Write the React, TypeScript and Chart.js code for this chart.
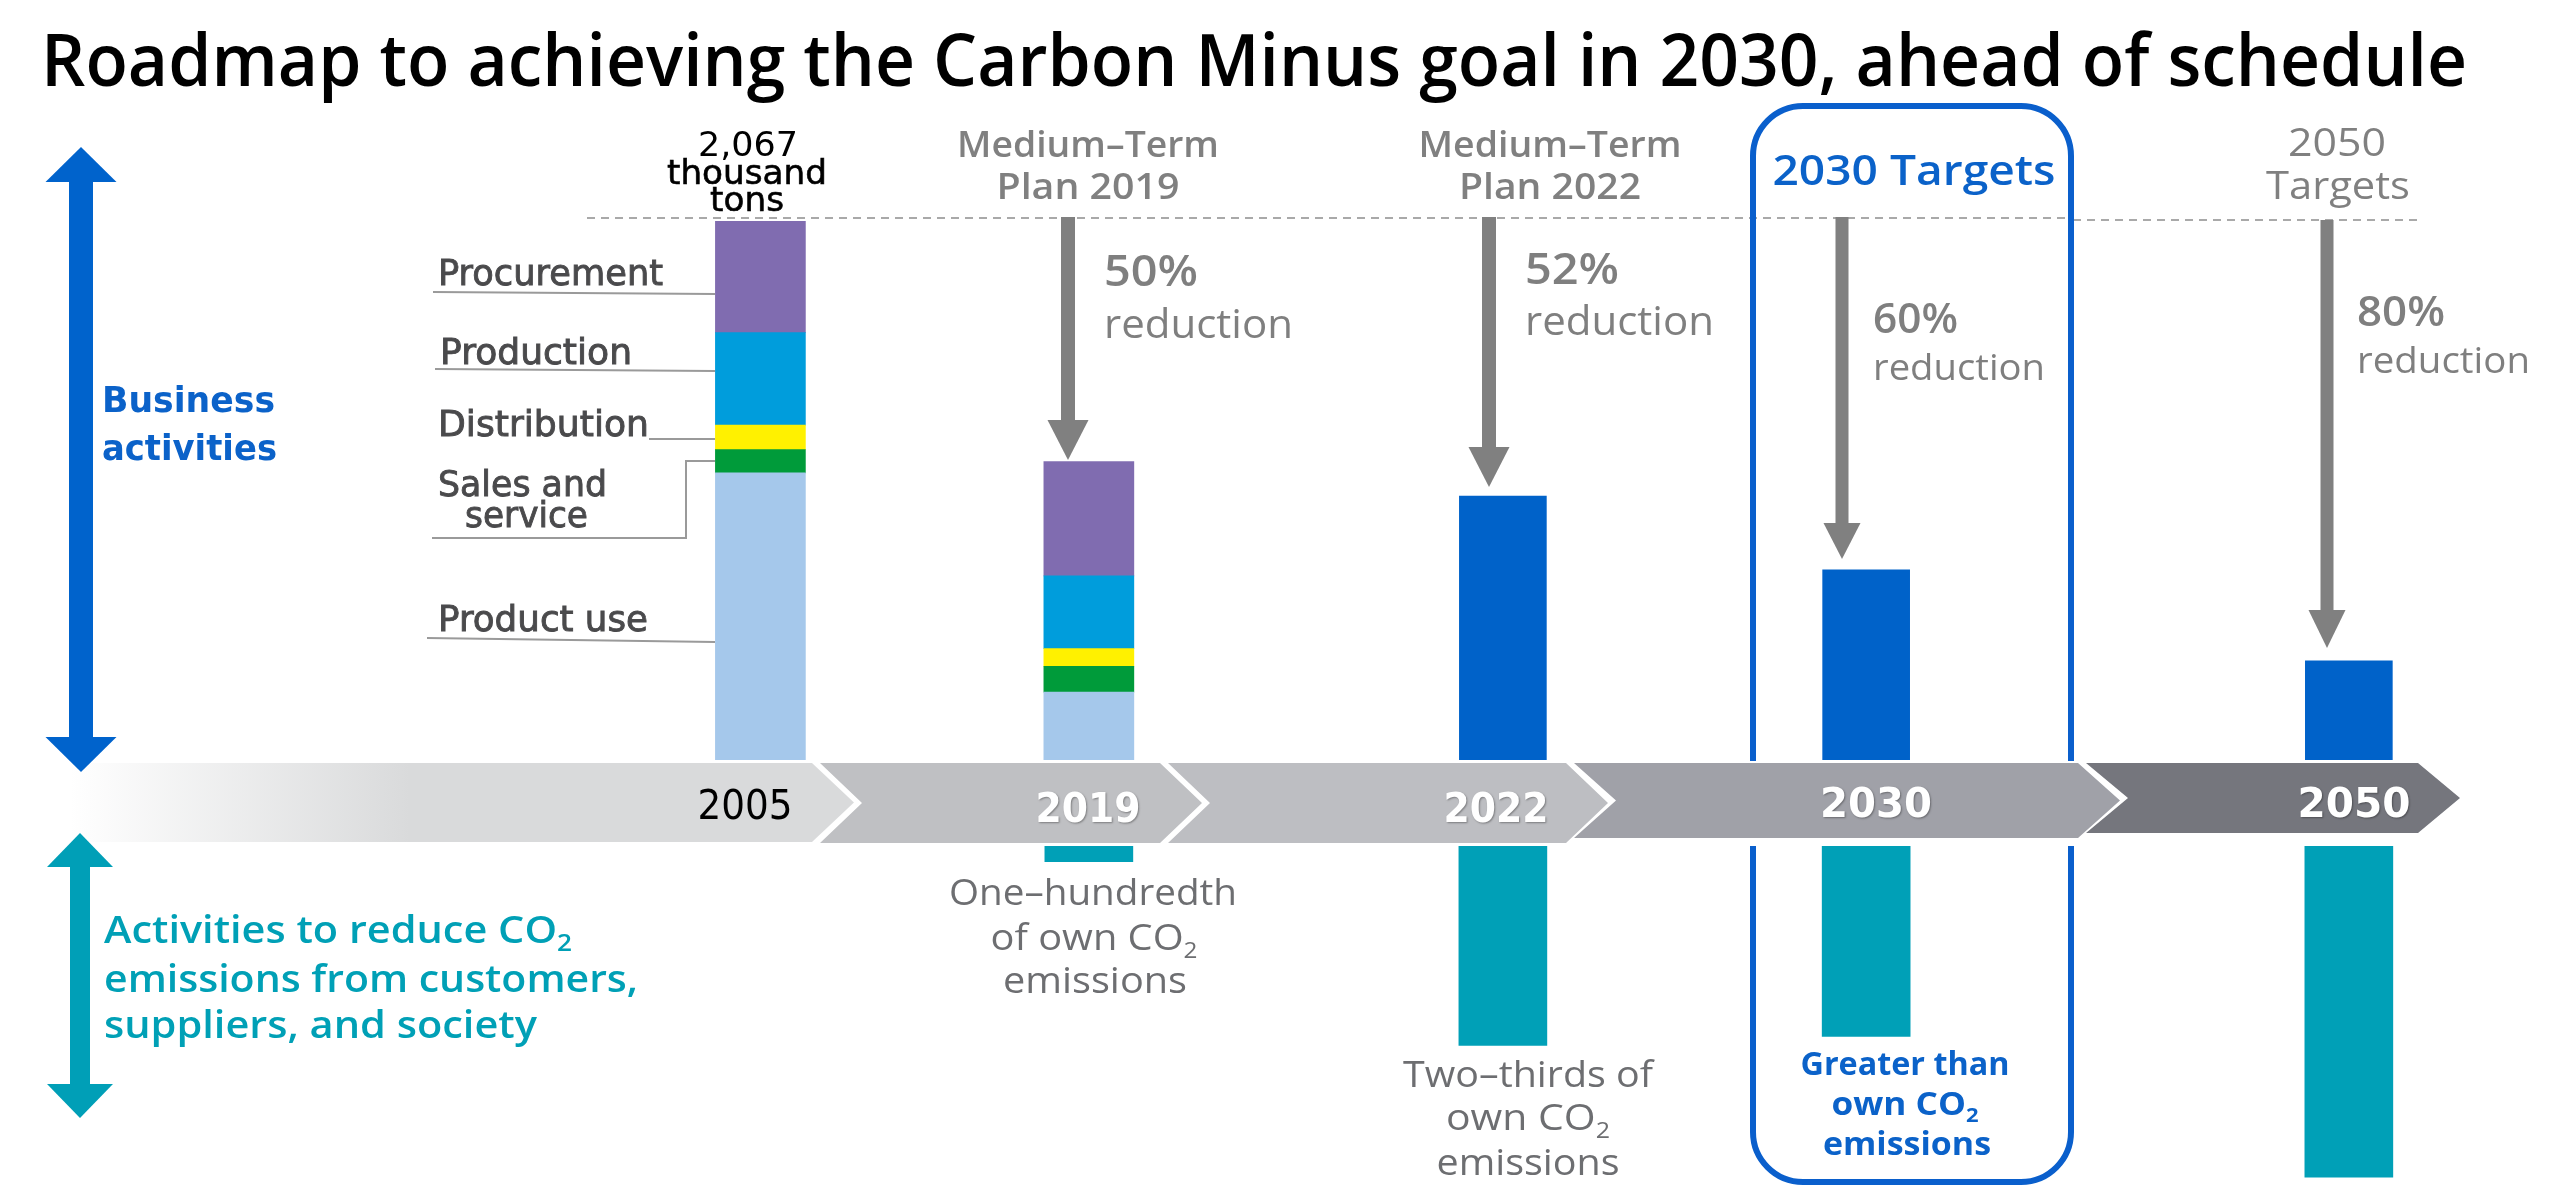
import React, { useEffect, useRef } from "react";
import { Chart, registerables } from "chart.js";

Chart.register(...registerables);

// ---------------- data ----------------
const years = ["2005", "2019", "2022", "2030", "2050"];
// thousand t-CO2, business activities (own emissions by stage)
const productUse = [1101, 260, null, null, null];
const salesAndService = [89, 99, null, null, null];
const distribution = [94, 68, null, null, null];
const production = [355, 279, null, null, null];
const procurement = [428, 438, null, null, null];
const ownEmissions = [null, null, 1012, 729, 380];
// reductions contributed to customers, suppliers and society
const societyReduction = [null, 60, 765, 730, 1270];
const reductionRates = ["", "50%", "52%", "60%", "80%"];
const stageLabels = ["Procurement", "Production", "Distribution", "Sales and service", "Product use"];
const totalLabel = ["2,067", "thousand", "tons"];

// ---------------- layout ----------------
const W = 2562;
const H = 1190;
// position of each year along the timeline (percent of width)
const slotPos = [29.68, 42.5, 58.66, 72.84, 91.68];

const SANS_M = '"Open Sans", "Noto Sans", "Liberation Sans", sans-serif';
const SANS_V = '"DejaVu Sans", Verdana, sans-serif';
const GRAY = "#808080";
const BLUE = "#0b62c9";
const TEAL = "#00a0b6";

const pts = (arr: (number | null)[]) =>
  arr.flatMap((v, i) => (v == null ? [] : [{ x: slotPos[i], y: v }]));

type Run = { t: string; sub?: boolean };
interface TOpt {
  size: number;
  family: string;
  weight?: string | number;
  color: string;
  align?: "left" | "center";
  w?: number;
  stroke?: number;
  shadow?: boolean;
}

function drawText(ctx: CanvasRenderingContext2D, runs: Run[] | string, x: number, y: number, o: TOpt) {
  const rs: Run[] = typeof runs === "string" ? [{ t: runs }] : runs;
  const wt = o.weight ?? 400;
  const main = `${wt} ${o.size}px ${o.family}`;
  const sub = `${wt} ${Math.round(o.size * 0.62)}px ${o.family}`;
  let w = 0;
  for (const r of rs) {
    ctx.font = r.sub ? sub : main;
    w += ctx.measureText(r.t).width;
  }
  const sx = o.w ? o.w / w : 1;
  const x0 = o.align === "center" ? x - (w * sx) / 2 : x;
  ctx.save();
  ctx.translate(x0, y);
  ctx.scale(sx, 1);
  ctx.textAlign = "left";
  ctx.textBaseline = "alphabetic";
  ctx.fillStyle = o.color;
  if (o.shadow) {
    ctx.shadowColor = "rgba(0,0,0,0.35)";
    ctx.shadowBlur = 2;
    ctx.shadowOffsetX = 1;
    ctx.shadowOffsetY = 1;
  }
  let cx = 0;
  for (const r of rs) {
    ctx.font = r.sub ? sub : main;
    const dy = r.sub ? o.size * 0.22 : 0;
    ctx.fillText(r.t, cx, dy);
    if (o.stroke) {
      ctx.strokeStyle = o.color;
      ctx.lineWidth = o.stroke;
      ctx.strokeText(r.t, cx, dy);
    }
    cx += ctx.measureText(r.t).width;
  }
  ctx.restore();
}

function downArrow(ctx: CanvasRenderingContext2D, x: number, y0: number, tip: number, sw: number, hw: number, hl: number, color: string) {
  ctx.fillStyle = color;
  ctx.fillRect(x - sw / 2, y0, sw, tip - hl - y0 + 1);
  ctx.beginPath();
  ctx.moveTo(x - hw / 2, tip - hl);
  ctx.lineTo(x + hw / 2, tip - hl);
  ctx.lineTo(x, tip);
  ctx.closePath();
  ctx.fill();
}

function doubleArrow(ctx: CanvasRenderingContext2D, x: number, top: number, bot: number, sw: number, hw: number, hl: number, color: string) {
  ctx.fillStyle = color;
  ctx.fillRect(x - sw / 2, top + hl - 1, sw, bot - top - 2 * hl + 2);
  ctx.beginPath();
  ctx.moveTo(x, top);
  ctx.lineTo(x + hw / 2, top + hl);
  ctx.lineTo(x - hw / 2, top + hl);
  ctx.closePath();
  ctx.fill();
  ctx.beginPath();
  ctx.moveTo(x, bot);
  ctx.lineTo(x + hw / 2, bot - hl);
  ctx.lineTo(x - hw / 2, bot - hl);
  ctx.closePath();
  ctx.fill();
}

function line(ctx: CanvasRenderingContext2D, p: number[][]) {
  ctx.beginPath();
  ctx.moveTo(p[0][0], p[0][1]);
  for (let i = 1; i < p.length; i++) ctx.lineTo(p[i][0], p[i][1]);
  ctx.stroke();
}

const decor = {
  id: "decor",
  beforeDatasetsDraw(chart: any) {
    const ctx: CanvasRenderingContext2D = chart.ctx;
    ctx.save();
    ctx.strokeStyle = "#a9a9a9";
    ctx.lineWidth = 2;
    ctx.setLineDash([8, 6]);
    line(ctx, [[587, 218], [2073, 218]]);
    line(ctx, [[2073, 220], [2420, 220]]);
    ctx.restore();
  },
  afterDatasetsDraw(chart: any) {
    const ctx: CanvasRenderingContext2D = chart.ctx;
    ctx.save();

    // Title
    drawText(ctx, "Roadmap to achieving the Carbon Minus goal in 2030, ahead of schedule", 41, 86, {
      size: 73, family: SANS_M, weight: 600, color: "#000", w: 2426,
    });

    // 2030 targets box (broken around the timeline)
    ctx.strokeStyle = "#0a5fcc";
    ctx.lineWidth = 6;
    const L = 1753, R = 2071, T = 106, B = 1182, r = 50, g1 = 761, g2 = 846;
    ctx.beginPath();
    ctx.moveTo(L, g1);
    ctx.lineTo(L, T + r);
    ctx.arcTo(L, T, L + r, T, r);
    ctx.lineTo(R - r, T);
    ctx.arcTo(R, T, R, T + r, r);
    ctx.lineTo(R, g1);
    ctx.stroke();
    ctx.beginPath();
    ctx.moveTo(L, g2);
    ctx.lineTo(L, B - r);
    ctx.arcTo(L, B, L + r, B, r);
    ctx.lineTo(R - r, B);
    ctx.arcTo(R, B, R, B - r, r);
    ctx.lineTo(R, g2);
    ctx.stroke();

    // Timeline
    const top = 763, d = 42;
    const grad = ctx.createLinearGradient(70, 0, 410, 0);
    grad.addColorStop(0, "#ffffff");
    grad.addColorStop(1, "#d9dadb");
    const segs = [
      { L: 62, R: 812, bot: 842, fill: grad as any },
      { L: 820, R: 1160, bot: 843, fill: "#bfc0c3" },
      { L: 1168, R: 1566, bot: 843, fill: "#bdbec2" },
      { L: 1574, R: 2078, bot: 838, fill: "#a0a1a8" },
      { L: 2086, R: 2418, bot: 833, fill: "#75767d" },
    ];
    segs.forEach((s, i) => {
      const mid = (top + s.bot) / 2;
      ctx.fillStyle = s.fill;
      ctx.beginPath();
      ctx.moveTo(s.L, top);
      ctx.lineTo(s.R, top);
      ctx.lineTo(s.R + d, mid);
      ctx.lineTo(s.R, s.bot);
      ctx.lineTo(s.L, s.bot);
      if (i > 0) ctx.lineTo(s.L + d, mid);
      ctx.closePath();
      ctx.fill();
    });
    const yearText = [
      { x: 745, y: 819, w: 95, c: "#000", sh: false, wt: 400 },
      { x: 1088, y: 822, w: 105, c: "#fff", sh: true, wt: 700 },
      { x: 1496, y: 822, w: 105, c: "#fff", sh: true, wt: 700 },
      { x: 1876, y: 817, w: 112, c: "#fff", sh: true, wt: 700 },
      { x: 2354, y: 817, w: 113, c: "#fff", sh: true, wt: 700 },
    ];
    years.forEach((yr, i) => {
      const t = yearText[i];
      drawText(ctx, yr, t.x, t.y, { size: 40, family: SANS_V, weight: t.wt, color: t.c, align: "center", w: t.w, shadow: t.sh });
    });

    // Left double arrows
    doubleArrow(ctx, 81, 147, 772, 24, 71, 35, "#0063cc");
    doubleArrow(ctx, 80, 833, 1118, 20, 66, 34, "#009fb7");

    drawText(ctx, "Business", 102, 412, { size: 36, family: SANS_V, weight: 700, color: BLUE, w: 173 });
    drawText(ctx, "activities", 102, 460, { size: 36, family: SANS_V, weight: 700, color: BLUE, w: 175 });

    // Stage labels + leader lines
    const lab = { size: 35, family: SANS_V, color: "#4a4a4c", stroke: 0.9 };
    drawText(ctx, stageLabels[0], 438, 285, { ...lab, w: 225 });
    drawText(ctx, stageLabels[1], 440, 364, { ...lab, w: 192 });
    drawText(ctx, stageLabels[2], 438, 436, { ...lab, w: 211 });
    const ss = stageLabels[3].split(" and ");
    drawText(ctx, ss[0] + " and", 438, 496, { ...lab, w: 169 });
    drawText(ctx, ss[1], 465, 527, { ...lab, w: 123 });
    drawText(ctx, stageLabels[4], 438, 631, { ...lab, w: 210 });
    ctx.strokeStyle = "#9a9a9a";
    ctx.lineWidth = 2;
    line(ctx, [[433, 292], [715, 294]]);
    line(ctx, [[435, 369], [715, 371]]);
    line(ctx, [[649, 439], [715, 439]]);
    line(ctx, [[715, 461], [686, 461], [686, 538], [432, 538]]);
    line(ctx, [[427, 638], [715, 642]]);

    // Total label
    drawText(ctx, totalLabel[0], 748, 156, { size: 34, family: SANS_V, color: "#000", align: "center", w: 100 });
    drawText(ctx, totalLabel[1], 747, 184, { size: 34, family: SANS_V, color: "#000", align: "center", w: 160, stroke: 0.6 });
    drawText(ctx, totalLabel[2], 747, 211, { size: 34, family: SANS_V, color: "#000", align: "center", w: 74, stroke: 0.6 });

    // Plan headers
    const hd = { size: 36, family: SANS_M, weight: 600, color: GRAY, align: "center" as const };
    drawText(ctx, "Medium–Term", 1088, 157, { ...hd, w: 262 });
    drawText(ctx, "Plan 2019", 1088, 199, { ...hd, w: 183 });
    drawText(ctx, "Medium–Term", 1550, 157, { ...hd, w: 263 });
    drawText(ctx, "Plan 2022", 1550, 199, { ...hd, w: 182 });
    drawText(ctx, "2030 Targets", 1914, 185, { size: 42, family: SANS_M, weight: 600, color: BLUE, align: "center", w: 283 });
    drawText(ctx, "2050", 2337, 156, { size: 38, family: SANS_M, weight: 500, color: GRAY, align: "center", w: 98 });
    drawText(ctx, "Targets", 2338, 199, { size: 38, family: SANS_M, weight: 500, color: GRAY, align: "center", w: 144 });

    // Reduction arrows and labels
    const arrows = [
      null,
      { x: 1068, y0: 217, tip: 460, sw: 14, hw: 41, hl: 40 },
      { x: 1489, y0: 217, tip: 487, sw: 14, hw: 41, hl: 40 },
      { x: 1842, y0: 217, tip: 559, sw: 13, hw: 37, hl: 36 },
      { x: 2327, y0: 220, tip: 648, sw: 13, hw: 37, hl: 38 },
    ];
    const rl = [
      null,
      { x: 1104, y1: 286, y2: 338, s1: 44, s2: 40, w1: 94, w2: 189 },
      { x: 1525, y1: 284, y2: 335, s1: 44, s2: 40, w1: 94, w2: 189 },
      { x: 1873, y1: 333, y2: 380, s1: 41, s2: 37, w1: 85, w2: 172 },
      { x: 2357, y1: 326, y2: 373, s1: 41, s2: 37, w1: 88, w2: 173 },
    ];
    reductionRates.forEach((rate, i) => {
      const a = arrows[i];
      const t = rl[i];
      if (!a || !t || !rate) return;
      downArrow(ctx, a.x, a.y0, a.tip, a.sw, a.hw, a.hl, GRAY);
      drawText(ctx, rate, t.x, t.y1, { size: t.s1, family: SANS_M, weight: 600, color: "#7f7f7f", w: t.w1 });
      drawText(ctx, "reduction", t.x, t.y2, { size: t.s2, family: SANS_M, weight: 400, color: "#7f7f7f", w: t.w2 });
    });

    // Lower texts
    const tl = { size: 38, family: SANS_M, weight: 600, color: TEAL };
    drawText(ctx, [{ t: "Activities to reduce CO" }, { t: "2", sub: true }], 104, 943, { ...tl, w: 468 });
    drawText(ctx, "emissions from customers,", 104, 992, { ...tl, w: 534 });
    drawText(ctx, "suppliers, and society", 104, 1038, { ...tl, w: 433 });

    const gl = { size: 36, family: SANS_M, weight: 400, color: "#6d6e71", align: "center" as const };
    drawText(ctx, "One–hundredth", 1093, 905, { ...gl, w: 288 });
    drawText(ctx, [{ t: "of own CO" }, { t: "2", sub: true }], 1094, 950, { ...gl, w: 207 });
    drawText(ctx, "emissions", 1095, 993, { ...gl, w: 184 });

    drawText(ctx, "Two–thirds of", 1528, 1087, { ...gl, w: 250 });
    drawText(ctx, [{ t: "own CO" }, { t: "2", sub: true }], 1528, 1130, { ...gl, w: 164 });
    drawText(ctx, "emissions", 1528, 1175, { ...gl, w: 183 });

    const bl = { size: 32, family: SANS_M, weight: 700, color: BLUE, align: "center" as const };
    drawText(ctx, "Greater than", 1905, 1075, { ...bl, w: 209 });
    drawText(ctx, [{ t: "own CO" }, { t: "2", sub: true }], 1905, 1115, { ...bl, w: 147 });
    drawText(ctx, "emissions", 1907, 1155, { ...bl, w: 168 });

    ctx.restore();
  },
};

function upperConfig(): any {
  const ds = (label: string, data: (number | null)[], color: string, thick: number) => ({
    label,
    data: pts(data),
    backgroundColor: color,
    borderWidth: 0,
    barThickness: thick,
    stack: "own",
  });
  return {
    type: "bar",
    data: {
      datasets: [
        ds(stageLabels[4], productUse, "#a5c8eb", 90),
        ds(stageLabels[3], salesAndService, "#009b3a", 90),
        ds(stageLabels[2], distribution, "#fff100", 90),
        ds(stageLabels[1], production, "#009ddc", 90),
        ds(stageLabels[0], procurement, "#806cb0", 90),
        ds("Own CO2 emissions", ownEmissions, "#0062c9", 87),
      ],
    },
    options: {
      animation: false,
      responsive: false,
      devicePixelRatio: 1,
      events: [],
      layout: { padding: { top: 221, bottom: H - 760, left: 0, right: 0 } },
      plugins: { legend: { display: false }, tooltip: { enabled: false } },
      scales: {
        x: { type: "linear", min: 0, max: 100, offset: false, display: false, stacked: true },
        y: { type: "linear", min: 0, max: 2067, display: false, stacked: true },
      },
    },
    plugins: [decor],
  };
}

function lowerConfig(): any {
  return {
    type: "bar",
    data: {
      datasets: [
        {
          label: "Reduction of customers', suppliers' and society's CO2",
          data: pts(societyReduction),
          backgroundColor: "#00a0b7",
          borderWidth: 0,
          barThickness: 88,
        },
      ],
    },
    options: {
      animation: false,
      responsive: false,
      devicePixelRatio: 1,
      events: [],
      layout: { padding: { top: 846, bottom: 5, left: 0, right: 0 } },
      plugins: { legend: { display: false }, tooltip: { enabled: false } },
      scales: {
        x: { type: "linear", min: 0, max: 100, offset: false, display: false },
        y: { type: "linear", min: 0, max: 1300, reverse: true, display: false },
      },
    },
  };
}

export default function App() {
  const upRef = useRef<HTMLCanvasElement>(null);
  const lowRef = useRef<HTMLCanvasElement>(null);
  useEffect(() => {
    const up = new Chart(upRef.current as HTMLCanvasElement, upperConfig());
    const low = new Chart(lowRef.current as HTMLCanvasElement, lowerConfig());
    let alive = true;
    const fonts: any = (document as any).fonts;
    if (fonts && fonts.ready) {
      fonts.ready.then(() => {
        if (alive) {
          up.draw();
          low.draw();
        }
      });
    }
    return () => {
      alive = false;
      up.destroy();
      low.destroy();
    };
  }, []);
  return (
    <div style={{ position: "absolute", left: 0, top: 0, width: W, height: H, background: "#fff", overflow: "hidden" }}>
      <canvas ref={upRef} width={W} height={H} style={{ position: "absolute", left: 0, top: 0 }} />
      <canvas ref={lowRef} width={W} height={H} style={{ position: "absolute", left: 0, top: 0, pointerEvents: "none" }} />
    </div>
  );
}
